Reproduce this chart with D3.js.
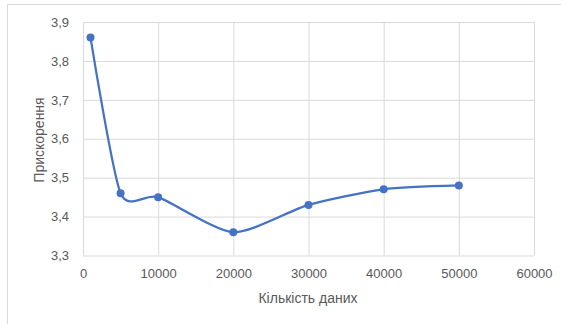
<!DOCTYPE html>
<html>
<head>
<meta charset="utf-8">
<script src="https://cdn.jsdelivr.net/npm/d3@7"></script>
<style>
  html, body { margin: 0; padding: 0; background: #fff; }
  svg { display: block; }
  text { font-family: "Liberation Sans", "DejaVu Sans", sans-serif; fill: #595959; }
</style>
</head>
<body>
<svg id="chart" width="561" height="324"></svg>
<script>
// Dataset size vs. speedup
const dataSizes = [1000, 5000, 10000, 20000, 30000, 40000, 50000];
const speedup   = [3.86, 3.46, 3.45, 3.36, 3.43, 3.47, 3.48];
const xTicks = [0, 10000, 20000, 30000, 40000, 50000, 60000];
const yTicks = [3.3, 3.4, 3.5, 3.6, 3.7, 3.8, 3.9];
const xTitle = "Кількість даних";
const yTitle = "Прискорення";

const svg = d3.select("#chart");
const W = 561, H = 324;
const plot = { left: 83, right: 534, top: 22, bottom: 255.5 };

// Chart frame
svg.append("path")
  .attr("d", `M7.5,${H} L7.5,4.5 L${W},4.5`)
  .attr("fill", "none")
  .attr("stroke", "#d9d9d9")
  .attr("stroke-width", 1);

const x = d3.scaleLinear().domain([0, 60000]).range([plot.left, plot.right]);
const y = d3.scaleLinear().domain([3.3, 3.9]).range([plot.bottom, plot.top]);

const fmtY = v => d3.format(".1f")(v).replace(".", ",");

// Vertical gridlines
const xAxis = d3.axisBottom(x).tickValues(xTicks).tickFormat(d3.format("d"))
  .tickSize(-(plot.bottom - plot.top)).tickPadding(13);
const gx = svg.append("g").attr("transform", `translate(0,${plot.bottom})`).call(xAxis);
gx.select(".domain").remove();
gx.selectAll(".tick line").attr("stroke", "#d9d9d9");
gx.selectAll(".tick text").attr("font-size", 13).attr("fill", "#595959");

// Horizontal gridlines
const yAxis = d3.axisLeft(y).tickValues(yTicks).tickFormat(fmtY)
  .tickSize(-(plot.right - plot.left)).tickPadding(14);
const gy = svg.append("g").attr("transform", `translate(${plot.left},0)`).call(yAxis);
gy.select(".domain").remove();
gy.selectAll(".tick line").attr("stroke", "#d9d9d9");
gy.selectAll(".tick text").attr("font-size", 13).attr("fill", "#595959");

// Axis titles
svg.append("text")
  .attr("x", 308).attr("y", 303)
  .attr("text-anchor", "middle")
  .attr("font-size", 14)
  .text(xTitle);
svg.append("text")
  .attr("transform", `translate(44,140) rotate(-90)`)
  .attr("text-anchor", "middle")
  .attr("font-size", 14)
  .text(yTitle);

// Smoothed series line
const pts = dataSizes.map((d, i) => [d, speedup[i]]);
const line = d3.line()
  .x(d => x(d[0])).y(d => y(d[1]))
  .curve(d3.curveCardinal.tension(0.3));
svg.append("path")
  .datum(pts)
  .attr("d", line)
  .attr("fill", "none")
  .attr("stroke", "#4472c4")
  .attr("stroke-width", 2.25)
  .attr("stroke-linecap", "round");

// Markers
svg.append("g").selectAll("circle")
  .data(pts).join("circle")
  .attr("cx", d => x(d[0])).attr("cy", d => y(d[1]))
  .attr("r", 4)
  .attr("fill", "#4472c4");
</script>
</body>
</html>
